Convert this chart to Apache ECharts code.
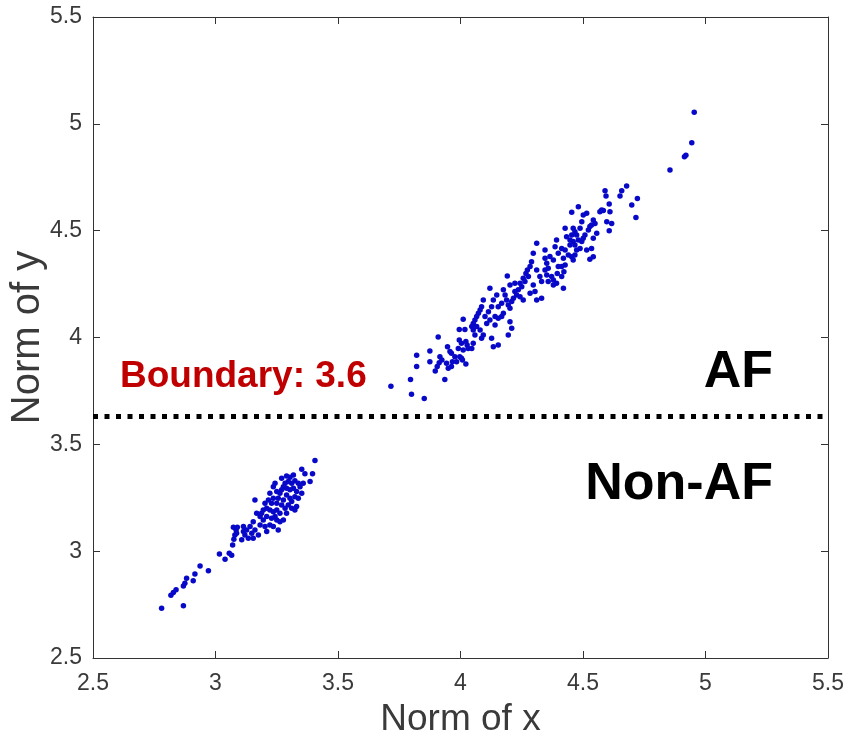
<!DOCTYPE html>
<html>
<head>
<meta charset="utf-8">
<script src="https://cdn.jsdelivr.net/npm/echarts@6/dist/echarts.min.js"></script>
<style>
  html, body { margin: 0; padding: 0; background: #fff; }
  #main { width: 846px; height: 745px; }
</style>
</head>
<body>
<div id="main"></div>
<script>
// Points du groupe AF (norme de x, norme de y)
var afPoints = [
  [3.716,3.772],[3.800,3.734],[3.852,3.714],[3.796,3.804],[3.821,3.917],[3.821,3.864],[3.875,3.937],[3.875,3.887],
  [3.909,4.002],[3.916,3.910],[3.897,3.843],[3.905,3.864],[3.913,3.882],[3.924,3.895],[3.936,3.804],[3.950,3.856],
  [3.943,3.879],[3.947,3.957],[3.957,3.934],[3.963,3.926],[3.967,3.887],[3.977,3.910],[3.984,3.887],[3.991,3.949],
  [3.995,3.988],[3.997,3.910],[4.004,3.903],[4.008,3.895],[4.011,4.085],[3.995,4.038],[4.018,4.038],[4.004,3.973],
  [4.022,3.981],[4.027,3.965],[4.011,3.942],[4.022,3.876],[4.031,3.949],[3.963,3.864],
  [4.311,4.441],[4.297,4.394],[4.290,4.355],[4.284,4.332],[4.273,4.316],[4.267,4.300],[4.277,4.285],[4.256,4.277],
  [4.263,4.262],[4.243,4.254],[4.250,4.238],[4.236,4.223],[4.222,4.215],[4.229,4.199],[4.216,4.184],[4.243,4.191],
  [4.256,4.176],[4.209,4.168],[4.191,4.288],[4.222,4.254],[4.202,4.246],[4.175,4.223],[4.182,4.199],[4.188,4.176],
  [4.195,4.152],[4.202,4.137],[4.168,4.160],[4.154,4.144],[4.148,4.199],[4.120,4.230],[4.134,4.176],[4.127,4.144],
  [4.114,4.121],[4.100,4.098],[4.093,4.176],[4.086,4.144],[4.080,4.129],[4.073,4.113],[4.066,4.098],[4.059,4.082],
  [4.052,4.066],[4.046,4.051],[4.066,4.051],[4.080,4.035],[4.093,4.012],[4.086,3.996],[4.059,4.012],[4.052,4.035],
  [4.107,4.066],[4.120,4.082],[4.141,4.098],[4.154,4.090],[4.168,4.098],[4.175,4.113],[4.202,4.074],[4.209,4.043],
  [4.195,4.012],[4.141,4.059],[4.127,3.996],[4.134,3.957],[4.154,3.965],[4.052,3.973],[4.046,3.949],[4.297,4.246],
  [4.304,4.215],[4.284,4.207],[4.311,4.176],[4.331,4.184],[4.345,4.410],[4.345,4.371],[4.352,4.347],[4.358,4.324],
  [4.345,4.316],[4.352,4.293],[4.372,4.285],[4.358,4.262],[4.379,4.269],[4.379,4.246],[4.392,4.254],[4.331,4.262],
  [4.324,4.285],[4.311,4.316],[4.392,4.456],[4.386,4.425],[4.399,4.394],[4.379,4.363],[4.399,4.332],[4.395,4.300],
  [4.365,4.379],
  [4.678,4.709],[4.658,4.687],[4.651,4.662],[4.590,4.687],[4.594,4.662],[4.722,4.651],[4.699,4.620],[4.716,4.562],
  [4.607,4.625],[4.610,4.589],[4.607,4.500],[4.597,4.542],[4.617,4.534],[4.583,4.594],[4.569,4.589],[4.576,4.597],
  [4.481,4.612],[4.454,4.586],[4.515,4.581],[4.501,4.573],[4.542,4.550],[4.549,4.534],[4.535,4.527],[4.528,4.519],
  [4.522,4.503],[4.495,4.542],[4.488,4.511],[4.460,4.511],[4.467,4.495],[4.454,4.480],[4.474,4.480],[4.427,4.511],
  [4.433,4.472],[4.447,4.456],[4.460,4.449],[4.481,4.456],[4.495,4.449],[4.501,4.464],[4.508,4.480],[4.556,4.488],
  [4.542,4.464],[4.515,4.410],[4.535,4.417],[4.542,4.378],[4.528,4.366],[4.488,4.417],[4.474,4.410],[4.467,4.386],
  [4.454,4.378],[4.460,4.363],[4.440,4.386],[4.427,4.410],[4.413,4.417],[4.420,4.371],[4.427,4.339],[4.413,4.332],
  [4.422,4.308],[4.413,4.285],[4.420,4.230],[4.447,4.433],[4.467,4.433],
  [4.954,5.054],[4.944,4.912],[4.914,4.846],[4.920,4.853],[4.855,4.784]
];

// Points du groupe Non-AF
var nonAfPoints = [
  [2.780,2.733],[2.869,2.745],[2.818,2.794],[2.828,2.806],[2.839,2.819],[2.869,2.837],[2.875,2.850],[2.882,2.873],
  [2.909,2.862],[2.916,2.893],[2.937,2.931],[2.971,2.908],[3.016,2.987],[3.039,2.962],[3.056,2.990],[3.066,2.981],
  [3.070,3.029],[3.075,3.056],[3.079,3.076],[3.086,3.084],[3.084,3.099],[3.073,3.112],[3.089,3.112],
  [3.406,3.424],[3.352,3.383],[3.365,3.362],[3.396,3.362],[3.386,3.326],[3.318,3.357],[3.304,3.346],[3.324,3.330],
  [3.338,3.318],[3.358,3.318],[3.311,3.318],[3.297,3.326],[3.284,3.318],[3.277,3.302],[3.290,3.294],[3.304,3.287],
  [3.318,3.294],[3.331,3.279],[3.324,3.255],[3.338,3.248],[3.352,3.271],[3.345,3.302],[3.304,3.248],[3.290,3.263],
  [3.270,3.287],[3.263,3.271],[3.250,3.279],[3.236,3.302],[3.256,3.248],[3.277,3.240],[3.270,3.216],[3.250,3.224],
  [3.236,3.248],[3.229,3.224],[3.216,3.240],[3.202,3.224],[3.195,3.193],[3.209,3.201],[3.222,3.193],[3.236,3.185],
  [3.250,3.193],[3.263,3.177],[3.284,3.201],[3.297,3.216],[3.311,3.201],[3.243,3.162],[3.229,3.154],[3.209,3.162],
  [3.195,3.146],[3.182,3.162],[3.168,3.177],[3.161,3.240],[3.182,3.123],[3.202,3.115],[3.222,3.123],[3.250,3.146],
  [3.154,3.138],[3.141,3.115],[3.161,3.099],[3.175,3.076],[3.127,3.099],[3.114,3.115],[3.120,3.076],[3.107,3.053],
  [3.134,3.060],[3.154,3.060],[3.148,3.084],[3.114,3.092],[3.209,3.092],[3.324,3.193],[3.256,3.099],[3.236,3.115],
  [3.277,3.146],[3.290,3.177],[3.263,3.138],[3.188,3.177],[3.222,3.271],[3.243,3.318],[3.270,3.341],[3.290,3.352],
  [3.331,3.209],[3.311,3.232]
];

// Bornes des axes et frontière
var axisMin = 2.5;
var axisMax = 5.5;
var axisStep = 0.5;
var boundaryY = 3.635;
var boundaryText = 'Boundary: 3.6';

var fontName = '"Liberation Sans", Arial, Helvetica, sans-serif';
var dotColor = '#0808c8';

var myChart = echarts.init(document.getElementById('main'));

function mainAxis(name, gap, nameSize, labelMargin) {
  return {
    type: 'value',
    min: axisMin,
    max: axisMax,
    interval: axisStep,
    name: name,
    nameLocation: 'middle',
    nameGap: gap,
    nameMoveOverlap: false,
    nameTextStyle: { fontFamily: fontName, fontSize: nameSize, color: '#3a3a3a' },
    axisLine: { show: true, onZero: false, lineStyle: { color: '#333', width: 1 } },
    axisTick: { show: true, inside: true, length: 7, lineStyle: { color: '#333' } },
    axisLabel: { fontFamily: fontName, fontSize: 23, color: '#3a3a3a', margin: labelMargin },
    splitLine: { show: false }
  };
}

// Axes secondaires pour fermer le cadre (haut et droite)
function boxAxis(pos) {
  return {
    type: 'value',
    position: pos,
    min: axisMin,
    max: axisMax,
    interval: axisStep,
    axisLine: { show: true, onZero: false, lineStyle: { color: '#333', width: 1 } },
    axisTick: { show: true, inside: true, length: 7, lineStyle: { color: '#333' } },
    axisLabel: { show: false },
    splitLine: { show: false }
  };
}

var xMain = mainAxis('Norm of x', 43, 37, 14);
var yMain = mainAxis('Norm of y', 45, 40, 11);
yMain.nameRotate = 90;

var option = {
  backgroundColor: '#fff',
  animation: false,
  grid: { left: 93, right: 18, top: 17, bottom: 87, outerBoundsMode: 'none', containLabel: false },
  xAxis: [xMain, boxAxis('top')],
  yAxis: [yMain, boxAxis('right')],
  series: [
    {
      name: 'AF',
      type: 'scatter',
      data: afPoints,
      symbolSize: 5.5,
      itemStyle: { color: dotColor, opacity: 1 },
      markLine: {
        silent: true,
        symbol: 'none',
        label: { show: false },
        lineStyle: { color: '#000', width: 5, type: [5, 6.5], cap: 'butt', opacity: 1 },
        data: [{ yAxis: boundaryY }]
      }
    },
    {
      name: 'Non-AF',
      type: 'scatter',
      data: nonAfPoints,
      symbolSize: 5.5,
      itemStyle: { color: dotColor, opacity: 1 }
    }
  ],
  graphic: [
    {
      type: 'text', left: 120, top: 358,
      style: { text: boundaryText, fill: '#c00000', font: 'bold 37px ' + fontName }
    },
    {
      type: 'text', right: 73, top: 347,
      style: { text: 'AF', fill: '#000', font: 'bold 52px ' + fontName }
    },
    {
      type: 'text', right: 73, top: 459,
      style: { text: 'Non-AF', fill: '#000', font: 'bold 52px ' + fontName }
    }
  ]
};

myChart.setOption(option);
</script>
</body>
</html>
